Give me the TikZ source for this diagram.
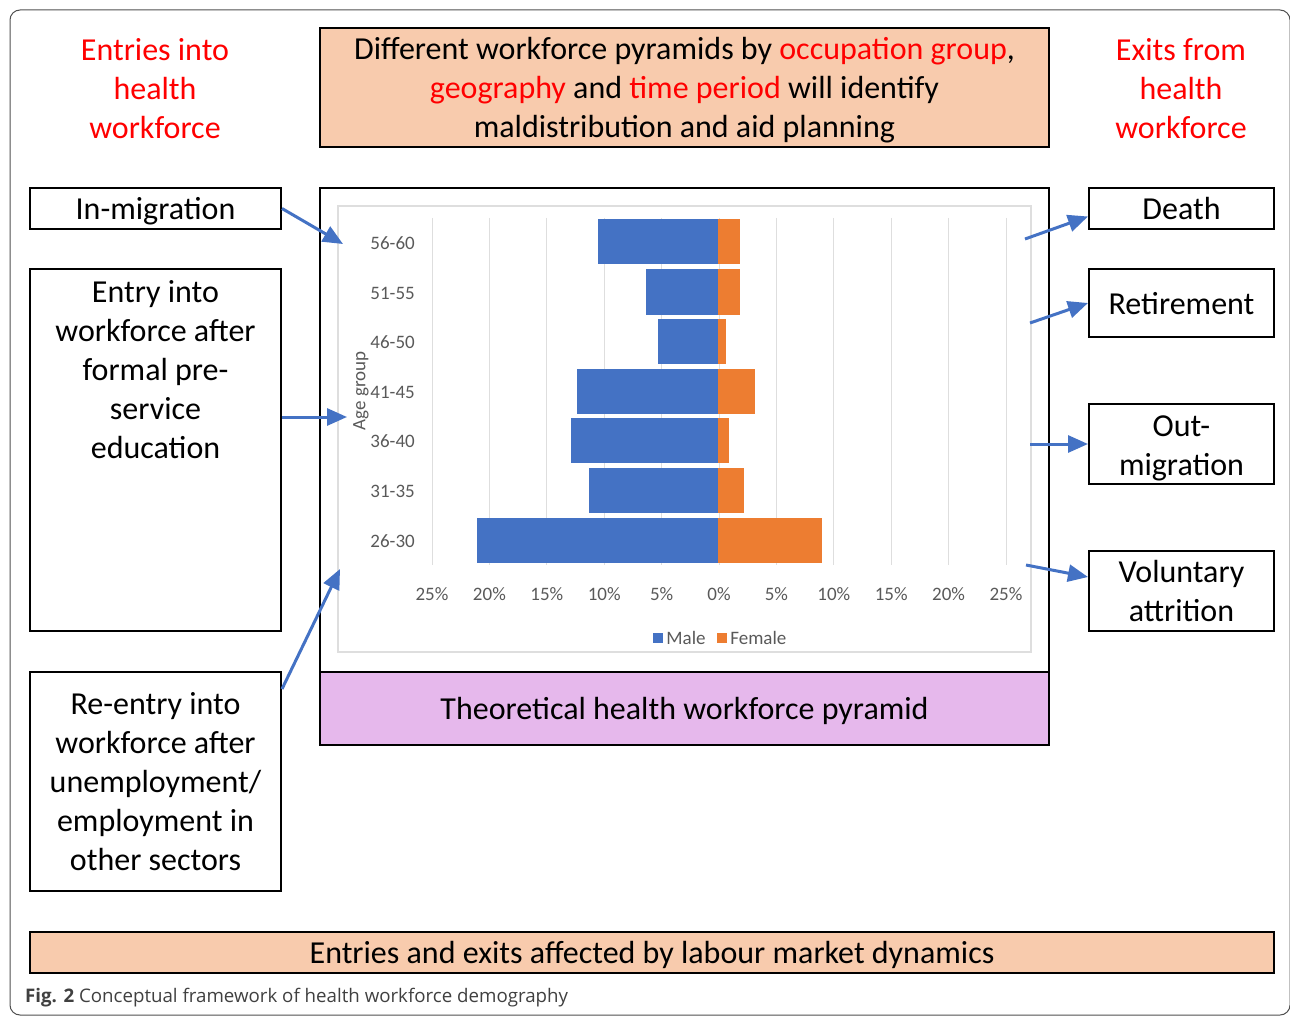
\documentclass[tikz,border=0pt]{standalone}
\usepackage{fontspec}
\setmainfont{Carlito}
\newfontfamily\capfont{Open Sans}
\usepackage{xcolor}
\usetikzlibrary{arrows.meta, positioning, calc}
\definecolor{peachcolor}{RGB}{248, 203, 173}
\definecolor{pyramidcolor}{RGB}{230, 184, 236}
\definecolor{malecolor}{RGB}{68, 114, 196}
\definecolor{femalecolor}{RGB}{237, 125, 49}
\definecolor{axiscolor}{RGB}{89, 89, 89}
\definecolor{gridcolor}{RGB}{222, 222, 222}
\definecolor{framecolor}{RGB}{80, 80, 80}
\definecolor{captioncolor}{RGB}{64, 64, 64}
\newcommand{\hl}[1]{\textcolor{red}{#1}}
% lower a (multi-line) text inside its box without moving the box
\newcommand{\lowertext}[2]{\raisebox{-#1}[\height][\depth]{\begin{tabular}{@{}c@{}}#2\end{tabular}}}

\begin{document}
\begin{tikzpicture}[x=1pt, y=-1pt,
    box/.style={draw, line width=2pt, align=center, inner sep=0pt, font=\fontsize{32}{39}\selectfont},
    headtext/.style={align=center, text=red, font=\fontsize{32}{39}\selectfont},
    flow/.style={draw=malecolor, line width=3pt, -{Triangle[length=20pt, width=17pt]}},
    axislbl/.style={text=axiscolor, inner sep=1pt, font=\fontsize{19}{22}\selectfont}]
    \useasboundingbox (0,0) rectangle (1290,1016);

    % Outer frame
    \draw[framecolor, line width=1pt, rounded corners=10pt] (10,10) rectangle (1290,1015);

    % Headings
    \node[headtext] (entries) at (155,88.5) {Entries into\\health\\workforce};
    \node[headtext] (exits) at (1181,88.5) {Exits from\\health\\workforce};
    \node[box, fill=peachcolor, minimum width=729pt, minimum height=119pt] (goal) at (684.5,87.5)
        {\lowertext{3pt}{Different workforce pyramids by \hl{occupation group},\\
         \hl{geography} and \hl{time period} will identify\\
         maldistribution and aid planning}};

    % Entries
    \node[box, minimum width=251pt, minimum height=41pt] (inmig) at (155.5,208.5) {\lowertext{3pt}{In-migration}};
    \node[box, minimum width=251pt, minimum height=362pt] (entry) at (155.5,450)
        {\parbox[t][340pt][t]{240pt}{\centering Entry into\\ workforce after\\ formal pre-\\ service\\ education}};
    \node[box, minimum width=251pt, minimum height=219pt] (reentry) at (155.5,781.5)
        {Re-entry into\\workforce after\\unemployment/\\employment in\\other sectors};

    % Exits
    \node[box, minimum width=185pt, minimum height=41pt] (death) at (1181.5,208.5) {Death};
    \node[box, minimum width=185pt, minimum height=68pt] (retire) at (1181.5,303) {\lowertext{4pt}{Retirement}};
    \node[box, minimum width=185pt, minimum height=80pt] (outmig) at (1181.5,444) {\lowertext{4pt}{Out-\\migration}};
    \node[box, minimum width=185pt, minimum height=80pt] (attrition) at (1181.5,591) {Voluntary\\attrition};

    % Pyramid frame and title
    \node[box, minimum width=729pt, minimum height=484pt] (chart) at (684.5,430) {};
    \node[box, fill=pyramidcolor, minimum width=729pt, minimum height=73pt] (pyrtitle) at (684.5,708.5)
        {\lowertext{3pt}{Theoretical health workforce pyramid}};
    \node[box, fill=peachcolor, minimum width=1244pt, minimum height=41pt] (market) at (652,952.5)
        {\lowertext{3pt}{Entries and exits affected by labour market dynamics}};

    % Pyramid chart
    \draw[gridcolor, line width=1.5pt] (338,206) rectangle (1031,652);
    \foreach \i/\pct in {0/25\%,1/20\%,2/15\%,3/10\%,4/5\%,5/0\%,6/5\%,7/10\%,8/15\%,9/20\%,10/25\%} {
        \draw[gridcolor, line width=1pt] ({432+57.4*\i},218) -- ({432+57.4*\i},565);
        \node[axislbl] (tick\i) at ({432+57.4*\i},594) {\pct};
    }
    \foreach \age/\yc/\male/\female in {56-60/242/10.45/1.9, 51-55/292/6.3/1.9, 46-50/341/5.2/0.7,
        41-45/391/12.3/3.2, 36-40/440/12.8/1.0, 31-35/490/11.2/2.3, 26-30/540/21.0/9.1} {
        \fill[malecolor] ({718-11.48*\male},{\yc-22.5}) rectangle (718,{\yc+22.5});
        \fill[femalecolor] (718,{\yc-22.5}) rectangle ({718+11.48*\female},{\yc+22.5});
        \node[axislbl, anchor=east] (age\age) at (416,{\yc+1}) {\age};
    }
    \node[axislbl, rotate=90] (agegroup) at (361,391) {Age group};
    \node[fill=malecolor, minimum size=10pt, inner sep=0pt] (malekey) at (658,638) {};
    \node[axislbl, right=2pt of malekey] (malelbl) {Male};
    \node[fill=femalecolor, minimum size=10pt, inner sep=0pt, right=10pt of malelbl] (femalekey) {};
    \node[axislbl, right=2pt of femalekey] (femalelbl) {Female};

    % Entry arrows
    \coordinate (inmigtip) at (343,244);
    \coordinate (entrytip) at (347,417);
    \coordinate (reentrytip) at (340,569);
    \draw[flow] (inmig.east) -- (inmigtip);
    \draw[flow] (entry.east |- entrytip) -- (entrytip);
    \draw[flow] ([yshift=-18pt]reentry.north east) -- (reentrytip);

    % Exit arrows
    \coordinate (deathtail) at (1025,239);
    \coordinate (retiretail) at (1030,323);
    \coordinate (outmigtail) at (1030,444);
    \coordinate (attritiontail) at (1026,565);
    \draw[flow] (deathtail) -- ([yshift=-8pt]death.west);
    \draw[flow] (retiretail) -- (retire.west);
    \draw[flow] (outmigtail) -- (outmig.west);
    \draw[flow] (attritiontail) -- ([yshift=14pt]attrition.west);

    % Caption
    \node[anchor=west, inner sep=0pt, text=captioncolor, font=\capfont\fontsize{18.7}{22}\selectfont] (caption) at (25,998)
        {\textbf{Fig. 2} Conceptual framework of health workforce demography};
\end{tikzpicture}
\end{document}
